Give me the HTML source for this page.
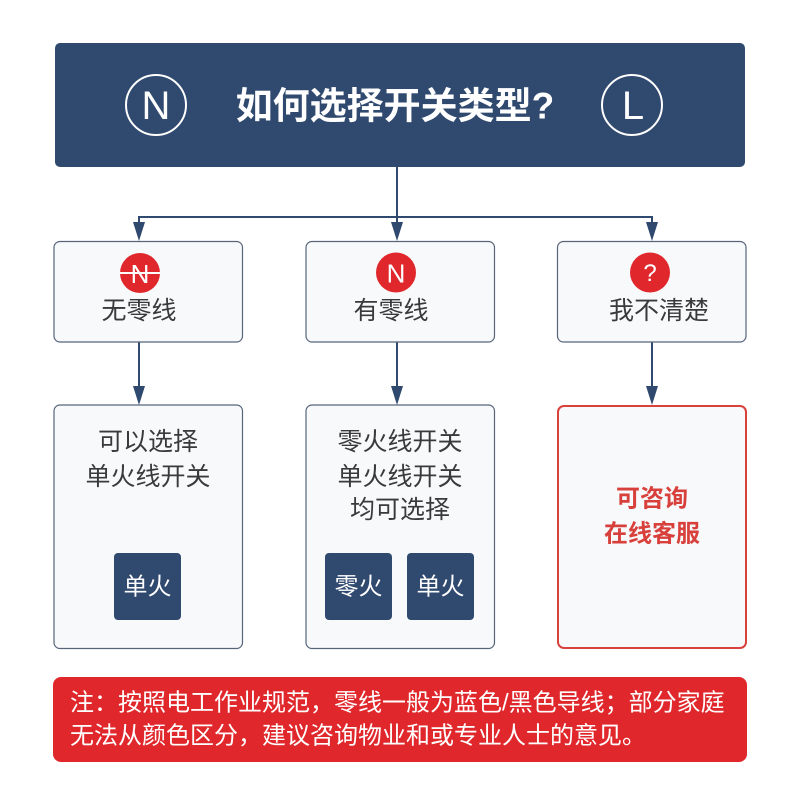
<!DOCTYPE html>
<html>
<head>
<meta charset="utf-8">
<style>
  html, body { margin:0; padding:0; background:#ffffff; }
  svg { display:block; }
  text { font-family: "Liberation Sans", "Noto Sans CJK SC", sans-serif; }
</style>
</head>
<body>
<svg width="800" height="800" viewBox="0 0 800 800" xmlns="http://www.w3.org/2000/svg">
  <rect x="0" y="0" width="800" height="800" fill="#ffffff"/>

  <!-- Header -->
  <rect x="55" y="43" width="690" height="124" rx="5" ry="5" fill="#30496f"/>
  <circle cx="156" cy="105" r="30" fill="none" stroke="#ffffff" stroke-width="2"/>
  <text x="156" y="106" fill="#ffffff" font-size="40" text-anchor="middle" dominant-baseline="central" font-family="Liberation Sans Narrow, Liberation Sans, sans-serif">N</text>
  <circle cx="632" cy="105" r="30" fill="none" stroke="#ffffff" stroke-width="2"/>
  <text x="633" y="106" fill="#ffffff" font-size="40" text-anchor="middle" dominant-baseline="central" font-family="Liberation Sans Narrow, Liberation Sans, sans-serif">L</text>
  <text x="395" y="106" fill="#ffffff" font-size="37" font-weight="bold" text-anchor="middle" dominant-baseline="central">如何选择开关类型?</text>

  <!-- Connectors -->
  <g stroke="#30496f" stroke-width="2" fill="none">
    <line x1="397" y1="167" x2="397" y2="217"/>
    <line x1="138" y1="217" x2="653" y2="217"/>
    <line x1="139" y1="216" x2="139" y2="228"/>
    <line x1="397" y1="216" x2="397" y2="228"/>
    <line x1="652" y1="216" x2="652" y2="228"/>
    <line x1="139" y1="342" x2="139" y2="392"/>
    <line x1="397" y1="342" x2="397" y2="392"/>
    <line x1="652" y1="342" x2="652" y2="392"/>
  </g>
  <g fill="#30496f">
    <polygon points="133,222 145,222 139,241"/>
    <polygon points="391,222 403,222 397,241"/>
    <polygon points="646,222 658,222 652,241"/>
    <polygon points="133,386 145,386 139,405"/>
    <polygon points="391,386 403,386 397,405"/>
    <polygon points="646,386 658,386 652,405"/>
  </g>

  <!-- Row 1 boxes -->
  <g fill="#f8f9fb" stroke="#56657a" stroke-width="1.2">
    <rect x="54" y="241.5" width="188.5" height="100.5" rx="6" ry="6"/>
    <rect x="306" y="241.5" width="188.5" height="100.5" rx="6" ry="6"/>
    <rect x="557.5" y="241.5" width="188.5" height="100.5" rx="6" ry="6"/>
  </g>

  <!-- Icons -->
  <circle cx="140" cy="273" r="20" fill="#e0282c"/>
  <text x="140" y="274" fill="#ffffff" font-size="26" text-anchor="middle" dominant-baseline="central" font-family="Liberation Sans, sans-serif">N</text>
  <line x1="120" y1="273" x2="160" y2="273" stroke="#ffffff" stroke-width="2"/>

  <circle cx="396" cy="272.5" r="20" fill="#e0282c"/>
  <text x="396" y="273.5" fill="#ffffff" font-size="26" text-anchor="middle" dominant-baseline="central" font-family="Liberation Sans, sans-serif">N</text>

  <circle cx="650" cy="272.5" r="20" fill="#e0282c"/>
  <text x="650" y="273.5" fill="#ffffff" font-size="24" text-anchor="middle" dominant-baseline="central" font-family="Liberation Sans, sans-serif">?</text>

  <g fill="#3a3a3a" font-size="25" text-anchor="middle" dominant-baseline="central">
    <text x="139" y="311">无零线</text>
    <text x="391" y="311">有零线</text>
    <text x="659" y="311">我不清楚</text>
  </g>

  <!-- Row 2 boxes -->
  <g fill="#f8f9fb" stroke="#56657a" stroke-width="1.2">
    <rect x="54" y="405" width="188.5" height="243.5" rx="6" ry="6"/>
    <rect x="306" y="405" width="188.5" height="243.5" rx="6" ry="6"/>
  </g>
  <rect x="558" y="406" width="188" height="242" rx="6" ry="6" fill="#f8f9fb" stroke="#d9413d" stroke-width="2"/>

  <g fill="#3a3a3a" font-size="25" text-anchor="middle" dominant-baseline="central">
    <text x="148" y="442">可以选择</text>
    <text x="148" y="477">单火线开关</text>
    <text x="400" y="442">零火线开关</text>
    <text x="400" y="477">单火线开关</text>
    <text x="400" y="510">均可选择</text>
  </g>

  <!-- Buttons -->
  <g fill="#30496f">
    <rect x="114" y="553" width="67" height="67" rx="4" ry="4"/>
    <rect x="325" y="553" width="67" height="67" rx="4" ry="4"/>
    <rect x="407" y="553" width="67" height="67" rx="4" ry="4"/>
  </g>
  <g fill="#ffffff" font-size="24" text-anchor="middle" dominant-baseline="central">
    <text x="147.5" y="587">单火</text>
    <text x="358.5" y="587">零火</text>
    <text x="440.5" y="587">单火</text>
  </g>

  <g fill="#d8403c" font-size="24" font-weight="bold" text-anchor="middle" dominant-baseline="central">
    <text x="652" y="499">可咨询</text>
    <text x="652" y="534">在线客服</text>
  </g>

  <!-- Note -->
  <rect x="53" y="677" width="694" height="85" rx="8" ry="8" fill="#e0282c"/>
  <g fill="#ffffff" font-size="24" dominant-baseline="central">
    <text x="70" y="703">注：按照电工作业规范，零线一般为蓝色/黑色导线；部分家庭</text>
    <text x="70" y="736">无法从颜色区分，建议咨询物业和或专业人士的意见。</text>
  </g>
</svg>
</body>
</html>
